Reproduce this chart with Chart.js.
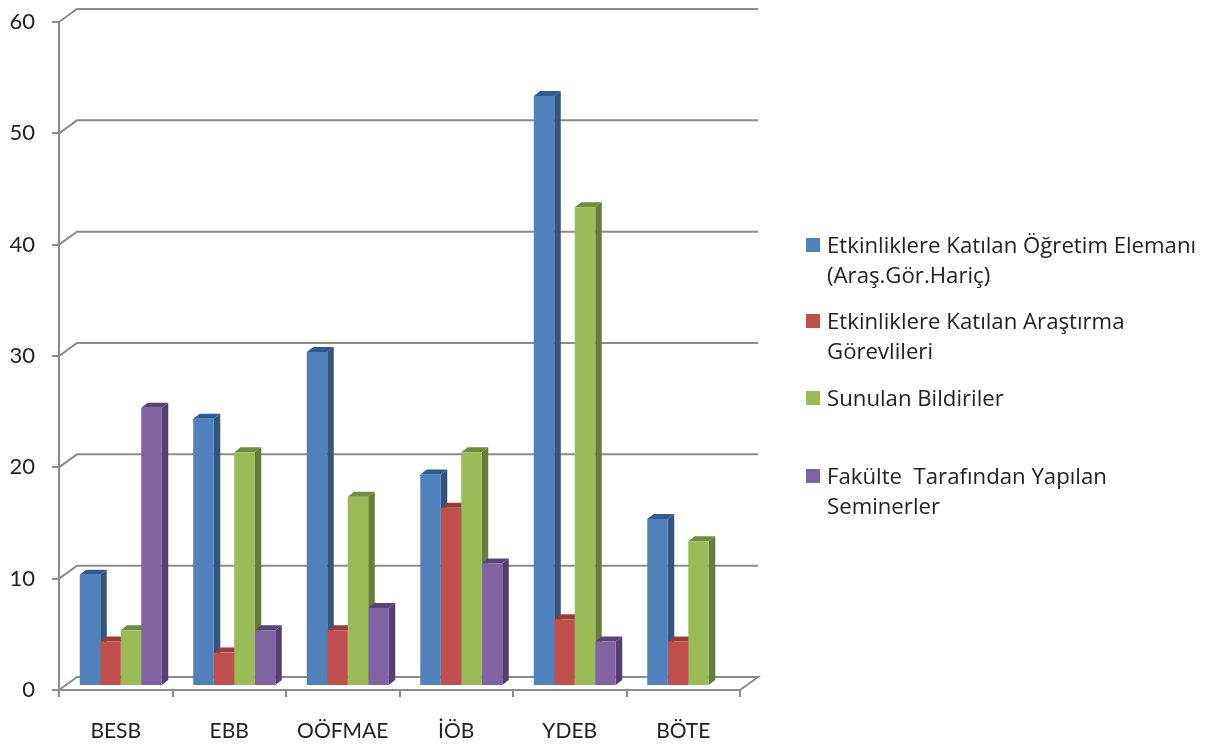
<!DOCTYPE html>
<html lang="tr">
<head>
<meta charset="utf-8">
<title>Etkinlikler</title>
<script src="https://cdn.jsdelivr.net/npm/chart.js@4"></script>
<style>
  html, body { margin: 0; padding: 0; background: #fff; }
  #wrap { position: relative; width: 1210px; height: 747px; overflow: hidden; }
  #chart { display: block; }
  #legend { position: absolute; left: 0; top: 0; font: 22.2px "Open Sans", sans-serif; color: #222; }
  .item { position: absolute; left: 827px; white-space: pre; line-height: 30px; }
  .swatch { position: absolute; left: -21px; top: 8px; width: 14px; height: 14px; }
</style>
</head>
<body>
<div id="wrap">
  <canvas id="chart" width="1210" height="747"></canvas>
  <div id="legend"></div>
</div>
<script>
const categories = ['BESB', 'EBB', 'OÖFMAE', 'İÖB', 'YDEB', 'BÖTE'];
const seriesNames = [
  'Etkinliklere Katılan Öğretim Elemanı\n(Araş.Gör.Hariç)',
  'Etkinliklere Katılan Araştırma\nGörevlileri',
  'Sunulan Bildiriler',
  'Fakülte  Tarafından Yapılan\nSeminerler'
];
const ogretimElemani = [10, 24, 30, 19, 53, 15];
const arastirmaGorevlileri = [4, 3, 5, 16, 6, 4];
const bildiriler = [5, 21, 17, 21, 43, 13];
const seminerler = [25, 5, 7, 11, 4, 0];
const seriesValues = [ogretimElemani, arastirmaGorevlileri, bildiriler, seminerler];

const frontColors = ['#4f81bd', '#c0504d', '#9bbb59', '#8064a2'];
const sideColors = ['#31557f', '#8c3a38', '#667c3a', '#543f6e'];
const topColors = ['#2f5b8e', '#9a3d3a', '#708a40', '#5a4478'];
const legendTops = [230, 306, 383, 461];

const axisColor = '#8c8c8c';
const textColor = '#222';

// floor/wall offset of the fake 3D box, and the smaller one for the bars
const WALL_DX = 18, WALL_DY = 13;
const BAR_DX = 5, BAR_DY = 4;
const SIDE_DX = 6.5, SIDE_DY = 5;

const fake3d = {
  id: 'fake3d',
  beforeDatasetsDraw(chart) {
    const { ctx, chartArea: a, scales: { y } } = chart;
    ctx.save();
    ctx.strokeStyle = axisColor;
    ctx.lineWidth = 2;
    y.ticks.forEach(t => {
      const py = y.getPixelForValue(t.value);
      ctx.beginPath();
      ctx.moveTo(a.left, py);
      ctx.lineTo(a.left + WALL_DX, py - WALL_DY);
      ctx.lineTo(a.right + WALL_DX, py - WALL_DY);
      if (t.value === 0) ctx.lineTo(a.right, py);
      ctx.stroke();
    });
    ctx.restore();

    // bars sit a bit inside the box
    ctx.save();
    ctx.translate(BAR_DX, -BAR_DY);

    // sides and tops go under all the fronts, left bar first
    seriesValues.forEach((values, i) => {
      chart.getDatasetMeta(i).data.forEach((bar, n) => {
        if (!values[n]) return;
        const p = bar.getProps(['x', 'y', 'base', 'width']);
        const l = p.x - p.width / 2, r = p.x + p.width / 2;
        ctx.fillStyle = sideColors[i];
        ctx.beginPath();
        ctx.moveTo(r, p.y);
        ctx.lineTo(r + SIDE_DX, p.y - SIDE_DY);
        ctx.lineTo(r + SIDE_DX, p.base - SIDE_DY);
        ctx.lineTo(r, p.base);
        ctx.fill();
        ctx.fillStyle = topColors[i];
        ctx.beginPath();
        ctx.moveTo(l, p.y);
        ctx.lineTo(l + SIDE_DX, p.y - SIDE_DY);
        ctx.lineTo(r + SIDE_DX, p.y - SIDE_DY);
        ctx.lineTo(r, p.y);
        ctx.fill();
      });
    });
  },
  afterDatasetsDraw(chart) {
    chart.ctx.restore();
  }
};

new Chart(document.getElementById('chart'), {
  type: 'bar',
  plugins: [fake3d],
  data: {
    labels: categories,
    datasets: seriesValues.map((values, i) => ({
      label: seriesNames[i].replace('\n', ' '),
      data: values,
      backgroundColor: frontColors[i],
      borderWidth: 0,
      categoryPercentage: 0.7225,
      barPercentage: 1
    }))
  },
  options: {
    responsive: false,
    animation: false,
    layout: { padding: { top: 22, right: 470, left: 0, bottom: 0 } },
    plugins: { legend: { display: false }, tooltip: { enabled: false } },
    scales: {
      x: {
        afterFit: s => { s.height = 57; s.paddingLeft = 0; s.paddingRight = 0; },
        border: { color: axisColor, width: 2 },
        grid: { drawOnChartArea: false, color: axisColor, lineWidth: 2, tickLength: 7 },
        ticks: { color: textColor, font: { family: 'Lato', size: 21 }, padding: 22, maxRotation: 0, autoSkip: false }
      },
      y: {
        min: 0,
        max: 60,
        afterFit: s => { s.width = 59; s.paddingTop = 0; s.paddingBottom = 0; },
        border: { color: axisColor, width: 2 },
        grid: { drawOnChartArea: false, color: axisColor, lineWidth: 2, tickLength: 7 },
        ticks: { stepSize: 10, color: textColor, font: { family: 'Lato', size: 22 }, padding: 17 }
      }
    }
  }
});

// wrapped legend, Chart.js' own legend can't break long names
const legend = document.getElementById('legend');
seriesNames.forEach((name, i) => {
  const item = document.createElement('div');
  item.className = 'item';
  item.style.top = legendTops[i] + 'px';
  item.textContent = name;
  const swatch = document.createElement('span');
  swatch.className = 'swatch';
  swatch.style.background = frontColors[i];
  item.appendChild(swatch);
  legend.appendChild(item);
});
</script>
</body>
</html>
